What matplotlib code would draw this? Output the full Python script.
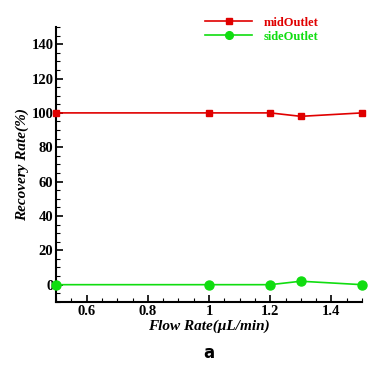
import numpy as np
import matplotlib
matplotlib.use("Agg")
import matplotlib.pyplot as plt
from matplotlib.ticker import MultipleLocator

# flow rate (uL/min) and recovery rate (%) for each outlet
flow = [0.5, 1.0, 1.2, 1.3, 1.5]
mid_outlet = [100, 100, 100, 98, 100]
side_outlet = [0, 0, 0, 2, 0]

plt.rcParams['font.family'] = ['Liberation Serif', 'DejaVu Serif']

fig = plt.figure(figsize=(3.69, 3.65), dpi=100)
ax = fig.add_axes([0.152, 0.173, 0.829, 0.753])

red = "#e00000"
green = "#10dd10"
ax.plot(flow, mid_outlet, color=red, lw=1.2, marker="s", ms=4.5,
        label="midOutlet", clip_on=False, zorder=3)
ax.plot(flow, side_outlet, color=green, lw=1.2, marker="o", ms=6.5,
        label="sideOutlet", clip_on=False, zorder=3)

ax.set_xlim(0.5, 1.5)
ax.set_ylim(-10, 150)
ax.xaxis.set_minor_locator(MultipleLocator(0.05))
ax.yaxis.set_minor_locator(MultipleLocator(5))
ax.set_xticks([0.6, 0.8, 1.0, 1.2, 1.4])
ax.set_xticklabels(["0.6", "0.8", "1", "1.2", "1.4"])
ax.set_yticks([0, 20, 40, 60, 80, 100, 120, 140])

ax.spines['top'].set_visible(False)
ax.spines['right'].set_visible(False)
ax.spines['left'].set_linewidth(1.5)
ax.spines['bottom'].set_linewidth(1.5)
ax.tick_params(which='major', direction='in', length=5, width=1.2, pad=2)
ax.tick_params(which='minor', direction='in', length=3, width=0.8)
for lbl in ax.get_xticklabels() + ax.get_yticklabels():
    lbl.set_fontweight('bold')
    lbl.set_fontsize(10.5)

ax.set_xlabel("Flow Rate(μL/min)", fontsize=11, fontweight='bold', style='italic', labelpad=1)
ax.set_ylabel("Recovery Rate(%)", fontsize=11, fontweight='bold', style='italic', labelpad=2)

leg = fig.legend(loc='upper left', bbox_to_anchor=(0.525, 0.985), frameon=False,
                 labelcolor='linecolor', handlelength=3.8, handletextpad=0.9,
                 labelspacing=0.15, markerscale=0.85,
                 prop={'weight': 'bold', 'size': 9})

fig.text(0.565, 0.033, "a", ha='center', va='center', fontsize=12,
         fontweight='bold', family='DejaVu Sans')

fig.savefig("out.png", dpi=100)
